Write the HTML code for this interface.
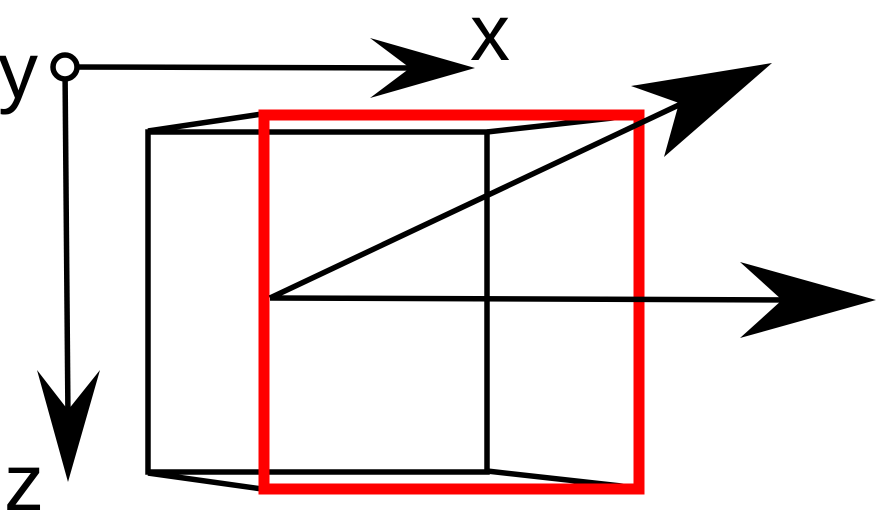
<!DOCTYPE html>
<html><head><meta charset="utf-8"><style>
html,body{margin:0;padding:0;background:#fff;}
svg{display:block;}
text{font-family:"Liberation Sans",sans-serif;}
</style></head><body>
<svg width="877" height="511" viewBox="0 0 877 511">
  <g stroke="#000" stroke-width="5.5" fill="none">
    <rect x="148" y="132" width="339" height="340"/>
    <line x1="148" y1="131" x2="262" y2="114"/>
    <line x1="487" y1="132" x2="639" y2="115"/>
    <line x1="148" y1="473" x2="262" y2="489"/>
    <line x1="487" y1="471" x2="639" y2="488"/>
  </g>
  <rect x="264" y="115" width="375" height="374" stroke="#f00" stroke-width="11" fill="none"/>
  <g>
    <line x1="65" y1="67" x2="420" y2="68" stroke="#000" stroke-width="5.5"/>
    <polygon points="475,68 370,38 410,68 370,98" fill="#000"/>
  </g>
  <g>
    <line x1="65" y1="67" x2="68" y2="420" stroke="#000" stroke-width="5.5"/>
    <polygon points="68,482 37,370 68,410 100,370" fill="#000"/>
  </g>
  <circle cx="65" cy="67" r="12" stroke="#000" stroke-width="5.5" fill="#fff"/>
  <g>
    <line x1="270" y1="298" x2="800" y2="300" stroke="#000" stroke-width="5.5"/>
    <polygon points="876,300 740,262 782,300 740,338" fill="#000"/>
  </g>
  <g>
    <line x1="270" y1="298" x2="700" y2="95" stroke="#000" stroke-width="5.5"/>
    <polygon points="772,63 631,86 679,103 664,157" fill="#000"/>
  </g>
  <text x="-2" y="98" font-size="80">y</text>
  <text x="470" y="60" font-size="80">x</text>
  <text x="4" y="510" font-size="80">z</text>
</svg>
</body></html>
